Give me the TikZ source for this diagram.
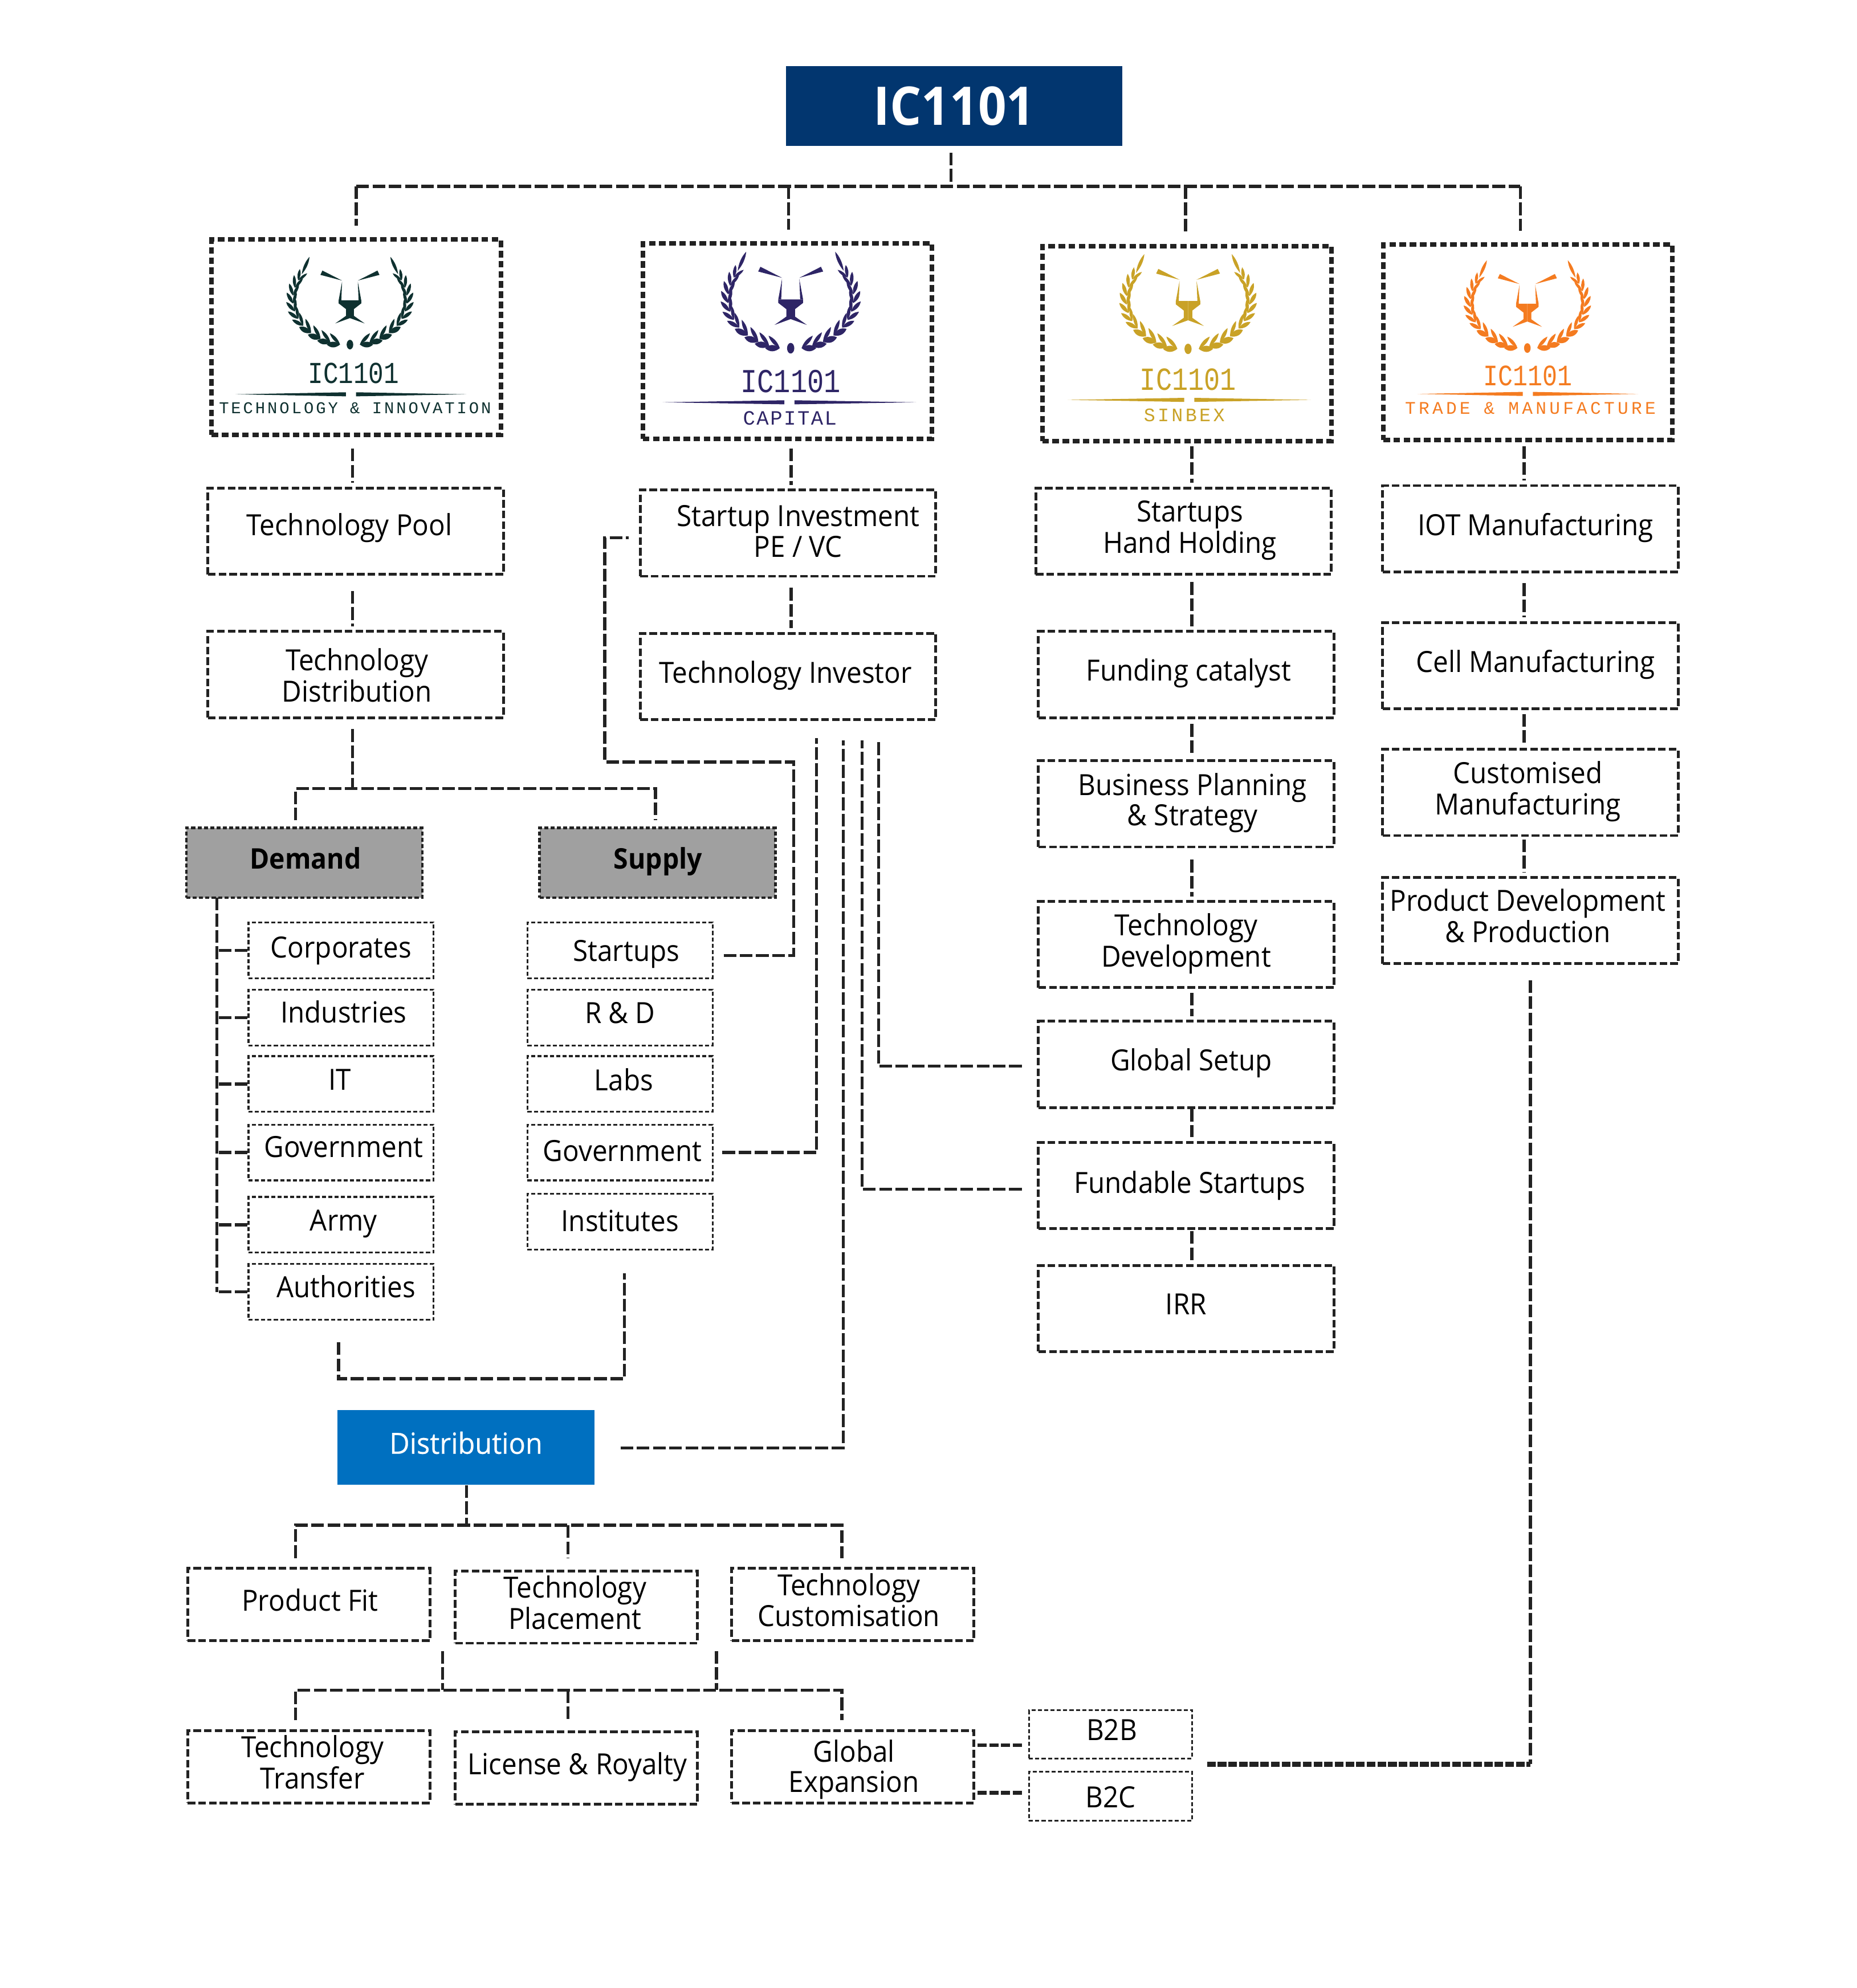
\documentclass[tikz,border=0pt]{standalone}
\usepackage{fontspec}
\setmainfont[FakeStretch=0.93]{Open Sans}
\newfontfamily\semifont[FakeStretch=0.95, FakeBold=0.4]{Open Sans}
\newfontfamily\logofont[FakeStretch=0.83]{Liberation Mono}
\newfontfamily\logosubfont{Liberation Mono}
\usetikzlibrary{positioning, calc}

\definecolor{brandnavy}{HTML}{02366F}
\definecolor{brandblue}{HTML}{0070C0}
\definecolor{brandgrey}{HTML}{A0A0A0}
\definecolor{linkgrey}{HTML}{222222}
\definecolor{logoteal}{HTML}{0F3130}
\definecolor{logoviolet}{HTML}{2E2566}
\definecolor{logogold}{HTML}{C9A227}
\definecolor{logoorange}{HTML}{F47B20}

\newcommand{\wreathleaf}[5]{
	\fill ({#1},{#2})
		.. controls ({#1+0.35*#4*cos(#3)-#5*sin(#3)},{#2+0.35*#4*sin(#3)+#5*cos(#3)})
		and ({#1+0.7*#4*cos(#3)-#5*sin(#3)},{#2+0.7*#4*sin(#3)+#5*cos(#3)})
		.. ({#1+#4*cos(#3)},{#2+#4*sin(#3)})
		.. controls ({#1+0.7*#4*cos(#3)+#5*sin(#3)},{#2+0.7*#4*sin(#3)-#5*cos(#3)})
		and ({#1+0.35*#4*cos(#3)+#5*sin(#3)},{#2+0.35*#4*sin(#3)-#5*cos(#3)})
		.. cycle;
}
\newcommand{\logotitle}[1]{\logofont\fontsize{#1}{#1}\selectfont}
\newcommand{\logosub}[2]{\logosubfont\fontsize{#1}{#1}\selectfont\addfontfeature{LetterSpace=#2}}
% moves the text inside its box, right and up (down when negative)
\newcommand{\nudge}[3]{\ifdim#2pt<0pt
	\raisebox{0pt}[\dimexpr\height-#2pt\relax][\depth]{\hspace*{#1pt}\begin{tabular}{@{}c@{}}#3\end{tabular}}%
	\else
	\raisebox{#2pt}{\hspace*{#1pt}\begin{tabular}{@{}c@{}}#3\end{tabular}}%
	\fi}

\tikzset{
	pics/lionlogo/.style={code={
		\begin{scope}[fill=#1]
			\foreach \side in {1, -1} {
				\begin{scope}[xscale=\side]
					\foreach \t/\lo/\wo/\li/\wi/\da/\db in {100/10.5/3/12/1.8/-8/40, 110/10.5/3/12/1.8/-8/38, 121/10.5/3/12/1.8/-8/36, 133/10.5/2.8/12/1.7/-10/32, 145/10/2/11/1.6/-20/24, 155/10/1.9/10/1.6/-24/22, 165/10/1.9/10/1.6/-24/22, 175/10/1.9/10/1.6/-24/22, 185/10/1.8/10/1.6/-24/22, 195/10/1.7/10/1.5/-22/22, 205/9/1.6/9/1.4/-22/22} {
						\pgfmathsetmacro{\px}{45*cos(\t)}
						\pgfmathsetmacro{\py}{-2+36*sin(\t)}
						\pgfmathsetmacro{\ang}{atan2(36*cos(\t), -45*sin(\t))}
						\wreathleaf{\px}{\py}{\ang+\da}{\lo}{\wo}
						\wreathleaf{\px}{\py}{\ang+\db}{\li}{\wi}
					}
					\wreathleaf{-38}{-22}{-66}{15}{1.6}
					\fill (-21.7,-24.9) -- (-23.3,-21.5) -- (-6.2,-17) -- cycle;
					\fill (-6.2,-16.2) -- (-8.9,-1.5) -- (-6.8,-1.5) -- cycle;
					\fill (0,-1.5) -- (-8.9,-1.5) -- (-8.9,1) -- (-3.1,5.5) -- (-3.1,10.8) -- (-11.6,16.8) -- (0,12.6) -- cycle;
				\end{scope}
			}
			\fill (0,33.5) ellipse [x radius=2.6, y radius=3.8];
		\end{scope}
	}}
}

\begin{document}
\begin{tikzpicture}[
	x=0.5pt,
	y=-0.5pt,
	logobox/.style={draw=linkgrey, line width=1.8pt, dash pattern=on 2.6pt off 1.4pt, minimum width=114pt, minimum height=77pt},
	colbox/.style={draw=linkgrey, line width=1.1pt, dash pattern=on 3pt off 1.2pt, minimum width=116.5pt, minimum height=34pt},
	lowbox/.style={colbox, minimum width=95.5pt, minimum height=28.5pt},
	itembox/.style={draw=linkgrey, line width=0.7pt, dash pattern=on 1.6pt off 0.9pt, minimum width=73pt, minimum height=22pt},
	greybox/.style={draw=linkgrey, fill=brandgrey, line width=1pt, dash pattern=on 1.6pt off 0.9pt, minimum width=93pt, minimum height=27.5pt, font=\fontsize{11.2}{12}\selectfont\bfseries},
	bluebox/.style={fill=brandblue, text=white, minimum width=101.5pt, minimum height=29.5pt},
	link/.style={draw=linkgrey, line width=1.2pt, dash pattern=on 5pt off 1.4pt},
	thicklink/.style={draw=linkgrey, line width=1.5pt, dash pattern=on 3.6pt off 1pt},
	barlink/.style={draw=linkgrey, line width=2.1pt, dash pattern=on 3.4pt off 0.8pt},
	every node/.append style={font=\fontsize{11.5}{12}\selectfont, inner sep=0pt}
]

\useasboundingbox (0,0) rectangle (1464.5,1568);

% top of the tree
\node [fill=brandnavy, text=white, minimum width=132.5pt, minimum height=31.5pt, font=\fontsize{21}{21}\selectfont\bfseries] (root) at (752.5,83.5) {IC1101};

% logo panels
\foreach \n/\x/\y/\wx/\wy/\s/\c in {a/281/266/276/238.3/1/logoteal, b/621/269/623.6/237.8/1.1/logoviolet, c/936/271/937/239/1.08/logogold, d/1205/270/1204.6/241/1/logoorange} {
	\node [logobox] (logo-\n) at (\x,\y) {};
	\pic [scale=\s] at (\wx,\wy) {lionlogo=\c};
}

\node [text=logoteal, font=\logotitle{12}] (logo-a-title) at (278.8,294.3) {IC1101};
\node [text=logoviolet, font=\logotitle{13.2}] (logo-b-title) at (623.6,300.8) {IC1101};
\node [text=logogold, font=\logotitle{12.7}] (logo-c-title) at (937,299.3) {IC1101};
\node [text=logoorange, font=\logotitle{11.7}] (logo-d-title) at (1205,296.3) {IC1101};

\node [text=logoteal, font=\logosub{6.5}{13.5}] (logo-a-sub) at (280,322) {TECHNOLOGY \& INNOVATION};
\node [text=logoviolet, font=\logosub{8}{7}] (logo-b-sub) at (623,329.7) {CAPITAL};
\node [text=logogold, font=\logosub{7.5}{13}] (logo-c-sub) at (934,327.5) {SINBEX};
\node [text=logoorange, font=\logosub{7}{17}] (logo-d-sub) at (1207,321.8) {TRADE \& MANUFACTURE};

\foreach \x/\y/\h/\c in {276.8/311/91/logoteal, 622.6/317.3/100/logoviolet, 938/315.4/96/logogold, 1205/310.7/87/logoorange} {
	\fill [\c] (\x-\h,\y) -- (\x-4,\y-1.6) -- (\x-4,\y+1.6) -- cycle;
	\fill [\c] (\x+\h,\y) -- (\x+4,\y-1.6) -- (\x+4,\y+1.6) -- cycle;
}

% first column
\node [colbox] (techpool) at (280.5,419) {\nudge{-5}{5}{Technology Pool}};
\node [colbox] (techdist) at (280.5,532) {\nudge{1}{-4}{Technology\\Distribution}};
\node [greybox] (demand) at (240,680.5) {\nudge{1}{1.5}{Demand}};
\node [greybox] (supply) at (518.5,680.5) {\nudge{0.5}{2}{Supply}};

\foreach \n/\t/\y/\dx/\dy in {corp/Corporates/749.5/0/-1, ind/Industries/802.5/2/4, it/IT/855/-1/1, gov/Government/909/2/4, army/Army/966/2/1, auth/Authorities/1019/4/4}
	\node [itembox] (demand-\n) at (269,\y) {\nudge{\dx}{\dy}{\t}};

\foreach \n/\t/\y/\dx/\dy in {startups/Startups/749.5/5/-4, rd/R \& D/802.5/0/2, labs/Labs/855/3/1, gov/Government/909/2/-2, inst/Institutes/963.5/0/-3}
	\node [itembox] (supply-\n) at (489,\y) {\nudge{\dx}{\dy}{\t}};

% second column
\node [colbox] (startinv) at (621.5,420.5) {\nudge{8}{-2}{Startup Investment\\PE / VC}};
\node [colbox] (techinv) at (621.5,533.5) {\nudge{-2}{3}{Technology Investor}};

% third column
\node [colbox] (holding) at (933.5,419) {\nudge{5}{0}{Startups\\Hand Holding}};
\node [colbox] (funding) at (935.5,532) {\nudge{2}{1}{Funding catalyst}};
\node [colbox] (planning) at (935.5,634) {\nudge{5}{0}{Business Planning\\\& Strategy}};
\node [colbox] (techdev) at (935.5,745) {\nudge{0}{0}{Technology\\Development}};
\node [colbox] (globset) at (935.5,839.5) {\nudge{4}{0}{Global Setup}};
\node [colbox] (fundable) at (935.5,935) {\nudge{3}{-1}{Fundable Startups}};
\node [colbox] (irr) at (935.5,1032) {\nudge{0}{3}{IRR}};

% fourth column
\node [colbox] (iot) at (1207,417) {\nudge{4}{1}{IOT Manufacturing}};
\node [colbox] (cell) at (1207,525) {\nudge{4}{1}{Cell Manufacturing}};
\node [colbox] (custom) at (1207,625) {\nudge{-2}{1}{Customised\\Manufacturing}};
\node [colbox] (proddev) at (1207,726) {\nudge{-2}{3.5}{Product Development\\\& Production}};

% distribution
\node [bluebox] (distribution) at (367.5,1141.5) {\nudge{0}{3}{\semifont Distribution}};
\node [lowbox] (prodfit) at (243.5,1265.5) {\nudge{1}{2}{Product Fit}};
\node [lowbox] (placement) at (454.5,1267.5) {\nudge{-1}{4}{Technology\\Placement}};
\node [lowbox] (customise) at (672.5,1265.5) {\nudge{-3}{4.5}{Technology\\Customisation}};
\node [lowbox] (transfer) at (243.5,1393.5) {\nudge{3}{2}{Technology\\Transfer}};
\node [lowbox] (license) at (454.5,1394.5) {\nudge{1}{3}{License \& Royalty}};
\node [lowbox] (globexp) at (672.5,1393.5) {\nudge{1}{-3}{Global\\Expansion}};
\node [itembox, minimum width=64.3pt, minimum height=19pt] (b2b) at (875.8,1368) {\nudge{1}{0}{B2B}};
\node [itembox, minimum width=64.3pt, minimum height=19.5pt] (b2c) at (875.8,1416.7) {\nudge{0}{-4}{B2C}};

% named points of the tree
\coordinate (topbus) at (750,147);
\coordinate (dsl) at (233,622);
\coordinate (dsm) at (278,622);
\coordinate (dsr) at (517,622);
\coordinate (trunk) at (171,708);
\coordinate (brkl) at (267,1087.5);
\coordinate (brkr) at (492.5,1087.5);
\coordinate (backa) at (626,601);
\coordinate (backb) at (477,601);
\coordinate (govup) at (644,582);
\coordinate (distup) at (665,584);
\coordinate (fundup) at (680,584);
\coordinate (setup) at (693,584);
\coordinate (upbus) at (368,1203);
\coordinate (lowl) at (233,1333);
\coordinate (lowm) at (448,1333);
\coordinate (lowr) at (664,1333);
\coordinate (lowa) at (349,1333);
\coordinate (lowb) at (565,1333);
\coordinate (gxa) at (768,1376.5);
\coordinate (gxb) at (768,1414);
\coordinate (barend) at (952,1391.5);

\draw [link, shorten <=2.5pt] (root.south -| topbus) -- (topbus);
\draw [link] (281,147) -- (1199,147);
\foreach \n/\x in {a/281, b/622, c/935, d/1199}
	\draw [link, shorten >=4.5pt] (\x,147) -- (\x,147 |- logo-\n.north);

% straight drops, with offset from the centre and gap at the start
\foreach \a/\b/\dx/\gap in {logo-a/techpool/-3/4.5, techpool/techdist/-2.5/6, logo-b/startinv/3/3, startinv/techinv/2.5/4, logo-c/holding/4/1, holding/funding/6.5/2.5, funding/planning/4.5/2, planning/techdev/4.5/4.5, techdev/globset/4.5/1.5, globset/fundable/4.5/0, fundable/irr/4.5/0.5, logo-d/iot/-3/1.5, iot/cell/-5/4, cell/custom/-5/1.5, custom/proddev/-5/1}
	\draw [link, shorten <=\gap pt, shorten >=1.5pt] (\a.south) ++(\dx,0) coordinate (drop) -- (drop |- \b.north);

\draw [link, shorten <=4pt] (techdist.south -| dsm) -- (dsm);
\draw [link, shorten <=2.5pt, shorten >=2.5pt] (dsl |- demand.north) -- (dsl) -- (dsr) -- (dsr |- supply.north);

\draw [link] (trunk) -- (trunk |- demand-auth.west);
\foreach \n in {corp, ind, it, gov, army, auth}
	\draw [link] (demand-\n.west) -- (demand-\n.west -| trunk);

\draw [link, shorten <=4pt, shorten >=4pt] ([yshift=-2pt]supply-startups.east) -| (backa) -- (backb) |- ([yshift=-1.75pt]startinv.west);
\draw [link, shorten <=3.5pt] (supply-gov.east) -| (govup);
\draw [link, shorten <=10pt] ([yshift=-0.2pt]distribution.east) -| (distup);
\draw [link, shorten <=6pt] ([yshift=-1.5pt]fundable.west) -| (fundup);
\draw [link, shorten <=6pt] ([yshift=-0.75pt]globset.west) -| (setup);

\draw [link, shorten <=8.5pt, shorten >=9pt] (brkl |- demand-auth.south) -- (brkl) -- (brkr) -- (brkr |- supply-inst.south);

\draw [link] (distribution.south -| upbus) -- (upbus);
\draw [link, shorten <=3.5pt, shorten >=3.5pt] (lowl |- prodfit.north) -- (lowl |- upbus) -- (lowr |- upbus) -- (lowr |- customise.north);
\draw [link, shorten >=4.5pt] (lowm |- upbus) -- (lowm |- placement.north);

\draw [link, shorten <=2.5pt] (lowa |- placement.south) -- (lowa);
\draw [link, shorten <=2.5pt] (lowb |- placement.south) -- (lowb);
\draw [link, shorten <=3.5pt, shorten >=3.5pt] (lowl |- transfer.north) -- (lowl) -- (lowr) -- (lowr |- globexp.north);
\draw [link, shorten >=4pt] (lowm) -- (lowm |- license.north);

\draw [thicklink, shorten <=1.5pt, shorten >=2pt] (gxa) -- (gxa -| b2b.west);
\draw [thicklink, shorten <=1.5pt, shorten >=2pt] (gxb) -- (gxb -| b2c.west);
\draw [barlink] (barend) -- (barend -| proddev.south);
\draw [link, shorten <=6pt] (proddev.south) -- (proddev.south |- barend);

\end{tikzpicture}
\end{document}
